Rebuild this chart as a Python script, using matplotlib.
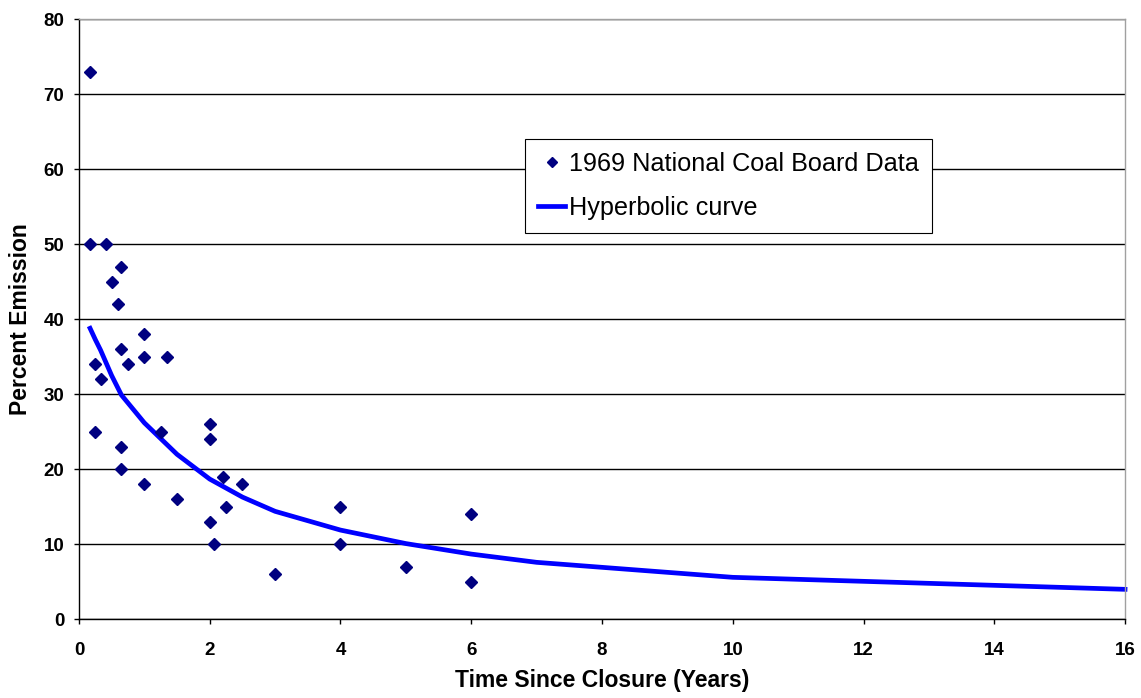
import matplotlib
matplotlib.use('Agg')
import matplotlib.pyplot as plt

plt.rcParams['font.family'] = ['Liberation Sans', 'DejaVu Sans']

# 1969 National Coal Board data (years since closure, percent emission)
ncb_years = [0.17, 0.17, 0.41, 0.65, 0.5, 0.6, 1.0, 0.65, 1.0, 1.35, 0.25, 0.75,
             0.33, 0.25, 1.25, 0.65, 0.65, 1.0, 1.5, 2.0, 2.0, 2.2, 2.5, 2.25,
             2.0, 2.07, 3.0, 4.0, 4.0, 5.0, 6.0, 6.0]
ncb_emission = [73, 50, 50, 47, 45, 42, 38, 36, 35, 35, 34, 34,
                32, 25, 25, 23, 20, 18, 16, 26, 24, 19, 18, 15,
                13, 10, 6, 15, 10, 7, 14, 5]

# hyperbolic curve
curve_years = [0.17, 0.25, 0.33, 0.5, 0.65, 1.0, 1.25, 1.5, 2.0, 2.5, 3.0,
               4.0, 5.0, 6.0, 7.0, 10.0, 16.0]
curve_emission = [38.8, 37.3, 35.9, 32.5, 29.9, 26.2, 24.1, 22.0, 18.7, 16.3, 14.4,
                  11.9, 10.1, 8.7, 7.6, 5.6, 4.0]

fig = plt.figure(figsize=(11.41, 6.98), dpi=100)
ax = fig.add_axes([0.0692, 0.1127, 0.9168, 0.8597])

ax.set_axisbelow(True)
ax.yaxis.grid(True, color='black', linewidth=1.0)

ax.plot(ncb_years, ncb_emission, linestyle='none', marker='D', markersize=6.5,
        color='#000080', label='1969 National Coal Board Data', zorder=3)
ax.plot(curve_years, curve_emission, color='#0000FF', linewidth=3.4,
        label='Hyperbolic curve', zorder=2, clip_on=False)

ax.set_xlim(0, 16)
ax.set_ylim(0, 80)
ax.set_xticks(range(0, 17, 2))
ax.set_yticks(range(0, 81, 10))

ax.tick_params(direction='out', length=3.6, width=1, color='black', labelsize=13.5)
ax.tick_params(axis='x', pad=13)
ax.tick_params(axis='y', pad=7)
for lbl in ax.get_xticklabels() + ax.get_yticklabels():
    lbl.set_fontweight('bold')

ax.spines['left'].set_color('black')
ax.spines['bottom'].set_color('black')
ax.spines['top'].set_color('#a0a0a0')
ax.spines['right'].set_color('#a0a0a0')
for s in ax.spines.values():
    s.set_linewidth(1.0)

ax.set_xlabel('Time Since Closure (Years)', fontsize=16.5, fontweight='bold', labelpad=7)
ax.set_ylabel('Percent Emission', fontsize=16.5, fontweight='bold', labelpad=8)

leg = ax.legend(loc='upper left', bbox_to_anchor=(0.4264, 0.80), fontsize=18.2,
                frameon=True, fancybox=False, edgecolor='black', framealpha=1,
                borderpad=0.5, handlelength=1.1, handletextpad=0.15,
                labelspacing=0.8, borderaxespad=0, markerscale=0.75)
leg.get_frame().set_linewidth(0.8)

fig.savefig('out.png', dpi=100)
